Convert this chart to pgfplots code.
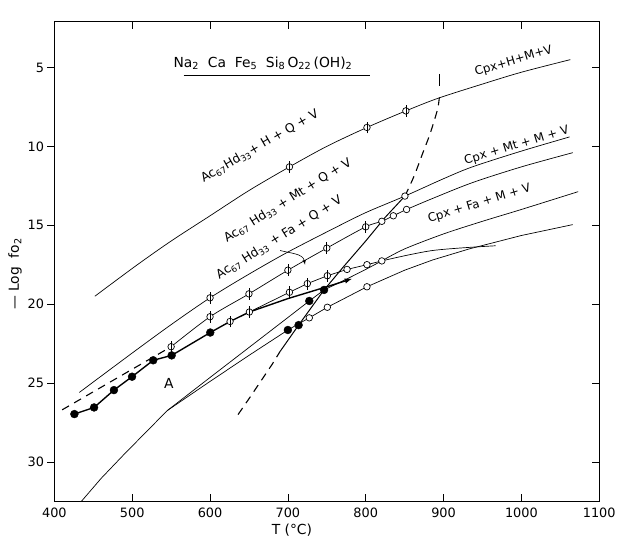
\documentclass[border=0pt]{standalone}
\usepackage{fontspec}
\setmainfont{DejaVu Sans}
\usepackage{pgfplots}
\pgfplotsset{compat=1.18}
\newcommand{\sub}[1]{\textsubscript{#1}}
\pgfdeclareplotmark{phi}{%
  \pgfpathcircle{\pgfpointorigin}{3.3pt}\pgfusepathqfillstroke
  \pgfpathmoveto{\pgfpoint{0pt}{-6pt}}\pgfpathlineto{\pgfpoint{0pt}{6pt}}\pgfusepathqstroke}
\tikzset{lab/.style={font=\fontsize{12.5}{14}\selectfont, inner sep=0pt},
         labc/.style={font=\fontsize{12}{14}\selectfont, inner sep=0pt}}
\begin{document}
\begin{tikzpicture}
\pgfplotsset{
  thinl/.style={black, line width=0.7pt},
  phim/.style={only marks, mark=phi, mark options={fill=white, line width=0.7pt}},
  openm/.style={only marks, mark=*, mark size=3.3pt, mark options={fill=white, line width=0.7pt}},
  fillm/.style={only marks, mark=*, mark size=4pt, mark options={fill=black}},
}
\begin{axis}[
  width=551pt, height=485pt, scale only axis,
  xmin=400, xmax=1100, ymin=2.1, ymax=32.5, y dir=reverse,
  xtick={400,500,...,1100}, ytick={5,10,...,30},
  ytick pos=right, yticklabels={}, xtick pos=both, xticklabel pos=lower,
  tick align=inside, major tick length=7pt,
  axis line style={line width=0.8pt}, tick style={line width=0.7pt, black},
  ticklabel style={font=\fontsize{13}{13}\selectfont},
  x tick label style={yshift=-3pt, /pgf/number format/1000 sep={}},
  /pgf/number format/assume math mode=true,
  xlabel={T (°C)}, xlabel style={font=\fontsize{14}{14}\selectfont, at={(axis description cs:0.436,0)}, anchor=north, yshift=-19pt},
]
\coordinate (SW) at (rel axis cs:0,0);
\coordinate (NE) at (rel axis cs:1,1);
% H line
\addplot[thinl, smooth] coordinates {(452,19.5) (505,17.56) (550,16.0) (600,14.4) (650,12.8) (702,11.3) (750,10.0) (801.6,8.8) (851.6,7.75) (893,6.95) (950,6.05) (1000,5.3) (1063,4.5)};
\addplot[phim] coordinates {(702,11.3) (801.6,8.8) (851.6,7.75)};
% line 1
\addplot[thinl, smooth] coordinates {(432,25.6) (500,23.1) (550,21.3) (600,19.6) (650,18.1) (700,16.7) (759,15.2) (800,14.2) (850.4,13.15) (900,12.05) (937,11.3) (1000,10.3) (1062,9.4)};
\addplot[phim] coordinates {(600,19.6)};
\addplot[openm] coordinates {(850.4,13.15)};
% line 2
\addplot[black, line width=1.1pt, dash pattern=on 8pt off 6pt] coordinates {(410,26.7) (480,24.7) (550,22.7)};
\addplot[thinl, smooth] coordinates {(550,22.7) (600,20.8) (650,19.35) (700,17.85) (750,16.45) (800,15.1) (820.7,14.75) (835.5,14.4) (852.5,14.0) (886,13.3) (937,12.3) (1000,11.3) (1066,10.4)};
\addplot[phim] coordinates {(550,22.7) (600,20.8) (650,19.35) (700,17.85) (750,16.45) (800,15.1)};
\addplot[openm] coordinates {(820.7,14.75) (835.5,14.4) (852.5,14.0)};
% lowest line L
\addplot[thinl] coordinates {(433,32.6) (460,31.05) (490,29.5) (518,28.1) (545,26.75) (600,24.9) (650,23.25) (700,21.64) (713.8,21.25) (727.5,20.87) (750.7,20.2) (801.6,18.9) (850,17.85) (886,17.2) (933,16.5) (1000,15.65) (1066,14.96)};
% line F and Cpx+Fa+M+V
\addplot[thinl] coordinates {(545,26.75) (600,24.65) (650,22.75) (700,20.85) (727.5,19.8) (746.5,19.1) (776,18.4) (800,17.8) (820.7,17.26)};
\addplot[thinl, smooth] coordinates {(820.7,17.26) (850,16.5) (900,15.55) (950,14.75) (1000,14.0) (1073,12.87)};
% line a and short line
\addplot[thinl] coordinates {(650.5,20.5) (702,19.25) (725,18.7) (750.7,18.2) (776,17.8) (801.6,17.5) (820.7,17.26)};
\addplot[thinl, smooth] coordinates {(820.7,17.26) (886,16.6) (967,16.3)};
% heavy filled-dot line
\addplot[black, line width=1.4pt, -{latex}] coordinates {(425.7,26.97) (451,26.55) (476.5,25.45) (499.8,24.6) (527,23.56) (550.7,23.25) (600.3,21.8) (625.7,21.1) (650.5,20.5) (700,19.65) (750,18.9) (782,18.4)};
% steep curve S
\addplot[black, line width=1.1pt, dash pattern=on 8pt off 6pt] coordinates {(636,27.0) (650,26.0) (665,24.9) (680,23.8) (690,23.0)};
\addplot[black, line width=1.0pt] coordinates {(690,23.0) (713.8,21.33) (746.5,19.1) (772,17.6) (800,16.0) (825,14.5) (850.4,13.15)};
\addplot[black, line width=1.1pt, dash pattern=on 8pt off 6pt, smooth] coordinates {(850.4,13.15) (862,11.9) (873.5,10.4) (882,9.3) (888.5,8.3) (893,7.5) (895,6.7)};
\addplot[black, line width=1.2pt] coordinates {(895,5.4) (895,6.15)};
% markers
\addplot[fillm] coordinates {(425.7,26.97) (451,26.55) (476.5,25.45) (499.8,24.6) (527,23.56) (550.7,23.25) (600.3,21.8) (700,21.64) (713.8,21.33) (727.5,19.8) (746.5,19.1)};
\addplot[phim] coordinates {(625.7,21.1) (650.5,20.5) (702,19.25) (725,18.7) (750.7,18.2)};
\addplot[openm] coordinates {(776,17.8) (801.6,17.5) (820.7,17.26) (727.5,20.87) (750.7,20.2) (801.6,18.9)};
% labels
\node[lab, rotate=30] at (axis cs:664,10.0) {Ac\sub{67}Hd\sub{33}+ H + Q + V};
\node[lab, rotate=32] at (axis cs:700,13.45) {Ac\sub{67} Hd\sub{33} + Mt + Q + V};
\node[lab, rotate=32] at (axis cs:689,15.8) {Ac\sub{67} Hd\sub{33} + Fa + Q + V};
\draw[line width=0.6pt, -{latex}] (axis cs:690,16.6) to[out=-15, in=100] (axis cs:722,17.5);
\node[labc, rotate=16.5] at (axis cs:990,4.6) {Cpx+H+M+V};
\node[labc, rotate=17] at (axis cs:994,9.95) {Cpx + Mt + M + V};
\node[labc, rotate=17] at (axis cs:946,13.65) {Cpx + Fa + M + V};
\node[font=\fontsize{14}{14}\selectfont] at (axis cs:547,25.0) {A};
\node[font=\fontsize{14}{14}\selectfont] at (axis cs:668,4.72) {Na\sub{2}\ \ Ca\ \ Fe\sub{5}\ \ Si\sub{8}\,O\sub{22}\,(OH)\sub{2}};
\draw[line width=0.7pt] (axis cs:566,5.5) -- (axis cs:805,5.5);
\end{axis}
\begin{axis}[
  width=551pt, height=485pt, scale only axis,
  xmin=400, xmax=1100, ymin=2.1, ymax=32.5, y dir=reverse,
  hide x axis, axis y line*=left, ytick={5,10,...,30}, ytick pos=left,
  tick align=outside, major tick length=7pt,
  axis line style={line width=0.8pt}, tick style={line width=0.7pt, black},
  ticklabel style={font=\fontsize{13}{13}\selectfont},
  /pgf/number format/assume math mode=true,
  ylabel={— Log\ \ fo\sub{2}}, ylabel style={font=\fontsize{14}{14}\selectfont, at={(axis description cs:-0.072,0.474)}, anchor=center},
]
\end{axis}
\pgfresetboundingbox
\path[use as bounding box] ([shift={(-55pt,-38pt)}]SW) rectangle ([shift={(18pt,22pt)}]NE);
\end{tikzpicture}
\end{document}
